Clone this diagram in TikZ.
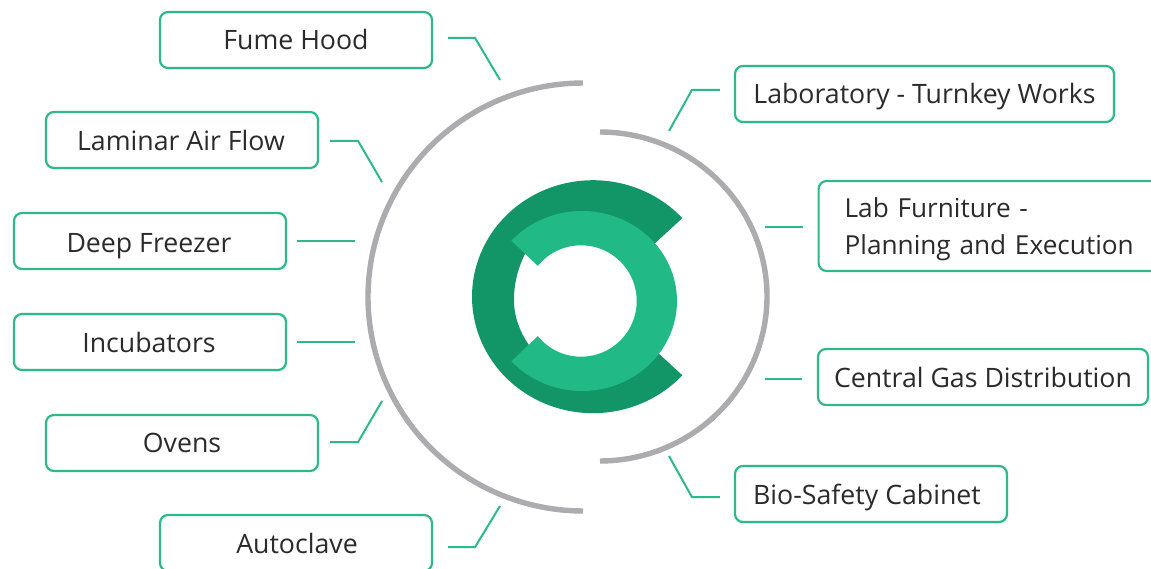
\documentclass[tikz,border=0pt]{standalone}
\usepackage{fontspec}
\setmainfont{Open Sans}
\definecolor{gborder}{HTML}{2DB98A}
\definecolor{gdark}{HTML}{129667}
\definecolor{glight}{HTML}{21B985}
\definecolor{gring}{HTML}{ABABB0}
\definecolor{ink}{HTML}{2B2B2B}
\tikzset{
  x=1pt,y=-1pt,
  labelbox/.style={draw=gborder,line width=2.2pt,rounded corners=8pt,rectangle,fill=white,text=ink,
    font=\fontsize{26.7pt}{36.5pt}\selectfont,inner sep=0pt,minimum height=56pt,text height=26pt,text depth=6pt},
  leader/.style={draw=gborder,line width=2pt},
  ringarc/.style={draw=gring,line width=5.4pt,line cap=butt},
}
\begin{document}
\begin{tikzpicture}
\useasboundingbox (0,0) rectangle (1151,569);
\clip (0,0) rectangle (1151,569);
% rings
\draw[ringarc] plot[domain=90:270,samples=90] ({583+215*cos(\x)},{297+214*sin(\x)});
\draw[ringarc] plot[domain=-90:90,samples=90] ({600+167*cos(\x)},{296.5+164.5*sin(\x)});
% logo: dark C
\fill[gdark] plot[domain=-42.4:-180,samples=70] ({593+121*cos(\x)},{296.7+116.5*sin(\x)})
  -- plot[domain=180:42.4,samples=70] ({593+121*cos(\x)},{296.7+116.5*sin(\x)})
  -- (645,341) -- (560,378) -- (535,355) -- (528.3,344)
  .. controls (520,332) and (514,317) .. (514,300)
  .. controls (514,283) and (518,268) .. (525,254)
  -- (530,245) -- (560,225) -- (640,257) -- cycle;
% logo: light C
\fill[glight] (537.3,265.3) -- (511.4,240.8)
  -- plot[domain=-138:138,samples=120] ({582+95*cos(\x)},{301+90*sin(\x)})
  -- (537.3,336.7)
  -- plot[domain=141:-141,samples=120] ({581+55.7*cos(\x)},{301+55.7*sin(\x)}) -- cycle;
% boxes
\node[labelbox,minimum width=272pt] (fume) at (296,40) {Fume Hood};
\node[labelbox,minimum width=272pt,text depth=4pt] (lam) at (182,140) {Laminar Air Flow\rule{2pt}{0pt}};
\node[labelbox,minimum width=272pt,text depth=2pt] (deep) at (150,241) {Deep Freezer\rule{2pt}{0pt}};
\node[labelbox,minimum width=272pt] (inc) at (150,342) {Incubators\rule{2pt}{0pt}};
\node[labelbox,minimum width=272pt,text depth=8pt] (ov) at (182,443) {Ovens};
\node[labelbox,minimum width=272pt] (auto) at (296,543) {\hspace{2pt}Autoclave};
\node[labelbox,minimum width=379pt] (labt) at (924.5,94) {Laboratory - Turnkey Works};
\node[labelbox,minimum height=90pt,align=left,text width=320pt,inner xsep=26pt,anchor=west,text depth=42.5pt,
  font=\fontsize{26.2pt}{36.5pt}\selectfont] (furn) at (817.5,226) {Lab Furniture -\\Planning and Execution};
\node[labelbox,minimum width=330pt] (gas) at (983,377) {Central Gas Distribution};
\node[labelbox,minimum width=272pt] (bio) at (871,494) {Bio-Safety Cabinet\rule{8pt}{0pt}};
% free ends
\coordinate (efume) at (500,80);
\coordinate (elam) at (382,182);
\coordinate (edeep) at (355,241);
\coordinate (einc) at (355,342);
\coordinate (eov) at (382,401);
\coordinate (eauto) at (500,506);
\coordinate (elabt) at (669,131);
\coordinate (efurn) at (765,227);
\coordinate (egas) at (765,379);
\coordinate (ebio) at (669,456);
% connectors
\draw[leader] ([xshift=15pt,yshift=2pt]fume.east) -- ++(27,0) -- (efume);
\draw[leader] ([xshift=11pt,yshift=-1pt]lam.east) -- ++(28,0) -- (elam);
\draw[leader] ([xshift=10pt]deep.east) -- (edeep);
\draw[leader] ([xshift=10pt]inc.east) -- (einc);
\draw[leader] ([xshift=11pt,yshift=1pt]ov.east) -- ++(28,0) -- (eov);
\draw[leader] ([xshift=15pt,yshift=-4pt]auto.east) -- ++(27,0) -- (eauto);
\draw[leader] ([xshift=-14pt,yshift=4pt]labt.west) -- ++(-28,0) -- (elabt);
\draw[leader] ([xshift=-14.5pt,yshift=-1pt]furn.west) -- (efurn);
\draw[leader] ([xshift=-15pt,yshift=-2pt]gas.west) -- (egas);
\draw[leader] ([xshift=-14pt,yshift=-3pt]bio.west) -- ++(-28,0) -- (ebio);
\end{tikzpicture}
\end{document}
